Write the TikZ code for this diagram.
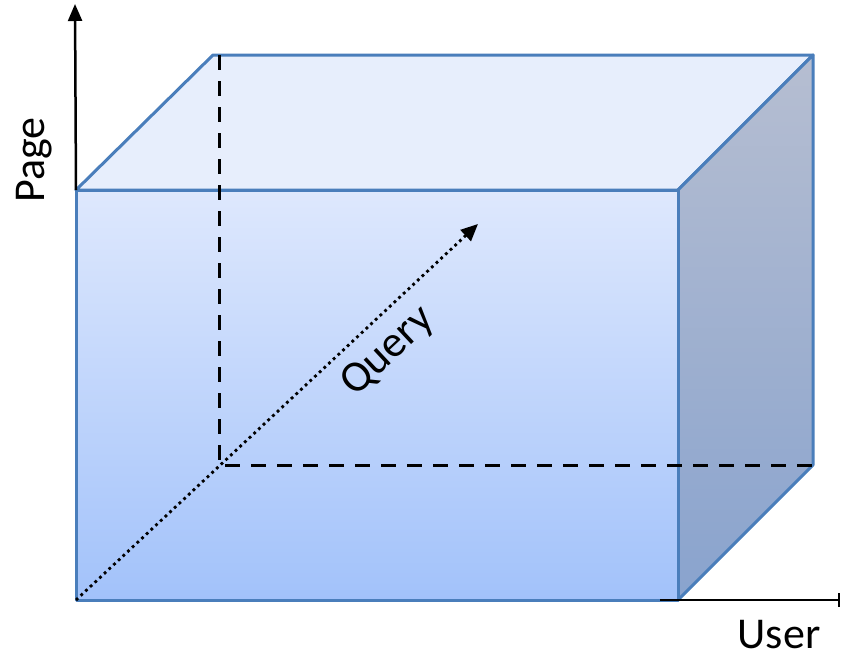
\documentclass[tikz,border=0pt]{standalone}
\usepackage{fontspec}
\setmainfont{Carlito}
\usetikzlibrary{arrows.meta}
\definecolor{edge}{RGB}{74,126,187}
\definecolor{frontT}{RGB}{222,232,253}
\definecolor{frontB}{RGB}{162,194,250}
\definecolor{topF}{RGB}{231,238,252}
\definecolor{sideT}{RGB}{182,190,209}
\definecolor{sideB}{RGB}{137,163,206}
\tikzset{
  face/.style={draw=edge, line width=3pt, line join=round},
  hidden/.style={draw=black, line width=3pt, dash pattern=on 15pt off 11pt},
  axis/.style={draw=black, line width=2.5pt},
  lbl/.style={font=\fontsize{44}{44}\selectfont, inner sep=0pt}
}
\begin{document}
\begin{tikzpicture}[x=1pt,y=-1pt]
\useasboundingbox (0,0) rectangle (842,657);
% corners
\coordinate (A) at (76,600);  % front bottom-left
\coordinate (B) at (678,600); % front bottom-right
\coordinate (C) at (678,190); % front top-right
\coordinate (D) at (76,190);  % front top-left
\coordinate (E) at (213,55);  % back top-left
\coordinate (F) at (813,55);  % back top-right
\coordinate (G) at (813,465); % back bottom-right
\coordinate (H) at (219,465); % back bottom-left
\coordinate (H2) at (219,55);
% top face
\path[face, fill=topF] (D) -- (E) -- (F) -- (C) -- cycle;
% right face
\path[face, top color=sideT, bottom color=sideB] (C) -- (F) -- (G) -- (B) -- cycle;
% front face
\path[face, top color=frontT, bottom color=frontB] (A) -- (B) -- (C) -- (D) -- cycle;
% hidden edges
\path[hidden] (H2) -- (H) -- (G);
% Query arrow
\coordinate (Q) at (478,224);
\draw[line width=2.8pt, dash pattern=on 2.8pt off 3.6pt, -{Triangle[length=17pt,width=15pt]}] (A) -- (Q);
\node[lbl, rotate=43] (query) at (388,352) {Query};
% Page axis
\coordinate (P) at (75,4);
\draw[axis, -{Triangle[length=17pt,width=14pt]}] (D) -- (P);
\node[lbl, rotate=90] (page) at (34,160) {Page};
% User axis
\coordinate (U0) at (660,600);
\coordinate (U1) at (840,600);
\draw[axis, -{Bar[width=14pt]}] (U0) -- (U1);
\node[lbl] (user) at (779,635) {User};
\end{tikzpicture}
\end{document}
